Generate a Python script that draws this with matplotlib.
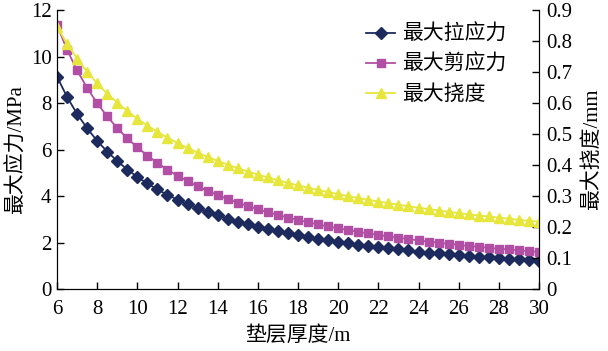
import matplotlib
matplotlib.use("Agg")
import matplotlib.pyplot as plt
from matplotlib.ticker import FuncFormatter, MultipleLocator

plt.rcParams['font.family'] = ['Liberation Serif', 'Noto Sans CJK SC']
plt.rcParams['mathtext.fontset'] = 'stix'

thickness = [6, 6.5, 7, 7.5, 8, 8.5, 9, 9.5, 10, 10.5, 11, 11.5, 12, 12.5, 13, 13.5,
             14, 14.5, 15, 15.5, 16, 16.5, 17, 17.5, 18, 18.5, 19, 19.5, 20, 20.5,
             21, 21.5, 22, 22.5, 23, 23.5, 24, 24.5, 25, 25.5, 26, 26.5, 27, 27.5,
             28, 28.5, 29, 29.5, 30]

tensile = [9.13, 8.26, 7.53, 6.91, 6.37, 5.91, 5.50, 5.14, 4.82, 4.54, 4.28, 4.05,
           3.84, 3.65, 3.47, 3.31, 3.17, 3.03, 2.90, 2.79, 2.68, 2.58, 2.48, 2.39,
           2.31, 2.23, 2.16, 2.09, 2.03, 1.96, 1.91, 1.85, 1.80, 1.75, 1.70, 1.66,
           1.61, 1.57, 1.53, 1.50, 1.46, 1.43, 1.39, 1.36, 1.33, 1.30, 1.27, 1.25, 1.22]

shear = [11.35, 10.29, 9.40, 8.65, 7.99, 7.42, 6.92, 6.48, 6.09, 5.74, 5.42, 5.13,
         4.87, 4.64, 4.42, 4.22, 4.04, 3.87, 3.71, 3.57, 3.43, 3.30, 3.19, 3.07,
         2.97, 2.87, 2.78, 2.69, 2.61, 2.54, 2.46, 2.39, 2.33, 2.26, 2.20, 2.15,
         2.09, 2.04, 1.99, 1.94, 1.90, 1.85, 1.81, 1.77, 1.73, 1.70, 1.66, 1.63, 1.59]

deflection = [0.846, 0.791, 0.743, 0.701, 0.663, 0.630, 0.601, 0.574, 0.549, 0.527,
              0.507, 0.488, 0.471, 0.455, 0.440, 0.426, 0.413, 0.401, 0.390, 0.379,
              0.369, 0.360, 0.351, 0.342, 0.334, 0.327, 0.319, 0.313, 0.306, 0.300,
              0.293, 0.288, 0.282, 0.277, 0.272, 0.267, 0.262, 0.258, 0.253, 0.249,
              0.245, 0.241, 0.237, 0.234, 0.230, 0.227, 0.223, 0.220, 0.217]

labels = ['最大拉应力', '最大剪应力', '最大挠度']
c_t = '#1C2A5E'
c_s = '#B04FA3'
c_d = '#E6E63C'

fig = plt.figure(figsize=(6.08, 3.51), dpi=100)
ax = fig.add_axes([0.0938, 0.1766, 0.7927, 0.7949])
ax2 = ax.twinx()

l1, = ax.plot(thickness, tensile, color=c_t, marker='D', markersize=6, lw=1.3)
l2, = ax.plot(thickness, shear, color=c_s, marker='s', markersize=6, lw=1.3)
l3, = ax2.plot(thickness, deflection, color=c_d, marker='^', markersize=7, lw=1.3)

ax.set_xlim(6, 30)
ax.set_ylim(0, 12)
ax2.set_ylim(0, 0.9)
ax.xaxis.set_major_locator(MultipleLocator(2))
ax.yaxis.set_major_locator(MultipleLocator(2))
ax2.yaxis.set_major_locator(MultipleLocator(0.1))
ax2.yaxis.set_major_formatter(FuncFormatter(lambda v, p: '%g' % round(v, 2)))

for a in (ax, ax2):
    a.spines['top'].set_visible(False)
    a.tick_params(direction='in', labelsize=15, length=5, width=1)
ax.tick_params(axis='x', pad=8)
ax.tick_params(axis='y', pad=4)
ax2.tick_params(axis='y', pad=5)

ax.set_xlabel('垫层厚度/m', fontsize=15, labelpad=5)
ax.set_ylabel('最大应力/MPa', fontsize=15, labelpad=3)
ax2.set_ylabel('最大挠度/mm', fontsize=15, labelpad=7)

leg = fig.legend([l1, l2, l3], labels, loc='upper right',
                 bbox_to_anchor=(506 / 608, 1 - 25 / 351),
                 frameon=False, fontsize=15, handlelength=1.4, handletextpad=0.3,
                 labelspacing=0.48, borderaxespad=0.0, borderpad=0.0)

fig.savefig('out.png', dpi=100)
